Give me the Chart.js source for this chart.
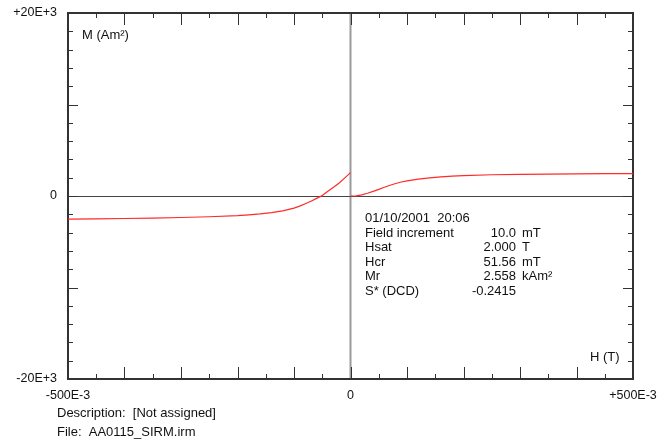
<!DOCTYPE html>
<html>
<head>
<meta charset="utf-8">
<script src="https://cdn.jsdelivr.net/npm/chart.js@4.4.1/dist/chart.umd.min.js"></script>
<style>
    html, body { margin: 0; padding: 0; background: #fff; }
    #wrap { position: relative; width: 670px; height: 445px; }
</style>
</head>
<body>
<div id="wrap"><canvas id="irmChart" width="670" height="445"></canvas></div>
<script>
// DCD branch (back-field, plotted at negative H) and IRM acquisition branch
const dcdField = [0, -0.01, -0.02, -0.03, -0.04, -0.05, -0.06, -0.07, -0.08, -0.09, -0.10,
    -0.12, -0.14, -0.16, -0.18, -0.20, -0.25, -0.30, -0.35, -0.40, -0.45, -0.50];
const dcdMoment = [2558, 1980, 1420, 950, 520, 50, -260, -580, -850, -1110, -1320,
    -1620, -1820, -1960, -2060, -2140, -2270, -2350, -2410, -2460, -2490, -2520];

const irmField = [0, 0.01, 0.02, 0.03, 0.04, 0.05, 0.06, 0.07, 0.08, 0.09, 0.10,
    0.12, 0.14, 0.16, 0.18, 0.20, 0.25, 0.30, 0.35, 0.40, 0.45, 0.50];
const irmMoment = [0, 20, 120, 300, 500, 720, 960, 1180, 1370, 1530, 1660,
    1850, 1990, 2090, 2170, 2230, 2320, 2370, 2400, 2420, 2435, 2445];

const xTickValues = [-0.5, 0, 0.5];
const xTickLabels = ['-500E-3', '0', '+500E-3'];
const yTickValues = [-20000, 0, 20000];
const yTickLabels = ['-20E+3', '0', '+20E+3'];

const infoNames = ['Field increment', 'Hsat', 'Hcr', 'Mr', 'S* (DCD)'];
const infoValues = ['10.0', '2.000', '51.56', '2.558', '-0.2415'];
const infoUnits = ['mT', 'T', 'mT', 'kAm²', ''];

const FONT = "'Liberation Sans', Arial, sans-serif";

function toPoints(xs, ys) {
    return xs.map((x, i) => ({ x: x, y: ys[i] }));
}

// frame, inward tick marks and the zero axes
const framePlugin = {
    id: 'frame',
    beforeDatasetsDraw(chart) {
        const { ctx, chartArea: a, scales } = chart;
        const sx = scales.x, sy = scales.y;
        ctx.save();

        // zero lines
        const x0 = sx.getPixelForValue(0);
        const y0 = sy.getPixelForValue(0);
        ctx.strokeStyle = '#9a9a9a';
        ctx.lineWidth = 2;
        ctx.beginPath();
        ctx.moveTo(x0, a.top);
        ctx.lineTo(x0, a.bottom);
        ctx.stroke();
        ctx.strokeStyle = '#444';
        ctx.lineWidth = 1;
        ctx.beginPath();
        ctx.moveTo(a.left, y0 + 0.5);
        ctx.lineTo(a.right, y0 + 0.5);
        ctx.stroke();

        // tick marks: every 0.05 T / 2000, longer every 0.1 T / 10000
        ctx.strokeStyle = '#333';
        ctx.lineWidth = 1;
        ctx.beginPath();
        for (let i = -10; i <= 10; i++) {
            const px = Math.round(sx.getPixelForValue(i * 0.05)) + 0.5;
            const len = i % 2 === 0 ? 12 : 5;
            ctx.moveTo(px, a.bottom);
            ctx.lineTo(px, a.bottom - len);
            ctx.moveTo(px, a.top);
            ctx.lineTo(px, a.top + len);
        }
        for (let j = -10; j <= 10; j++) {
            const py = Math.round(sy.getPixelForValue(j * 2000)) + 0.5;
            const len = j % 5 === 0 ? 10 : 5;
            ctx.moveTo(a.left, py);
            ctx.lineTo(a.left + len, py);
            ctx.moveTo(a.right, py);
            ctx.lineTo(a.right - len, py);
        }
        ctx.stroke();

        // outer box
        ctx.strokeStyle = '#333';
        ctx.lineWidth = 2;
        ctx.strokeRect(a.left, a.top, a.right - a.left, a.bottom - a.top);
        ctx.restore();
    },
    afterDraw(chart) {
        const { ctx } = chart;
        ctx.save();
        ctx.fillStyle = '#111';
        ctx.font = '13px ' + FONT;
        ctx.textBaseline = 'middle';
        ctx.textAlign = 'left';

        // axis names
        ctx.fillText('M (Am²)', 82, 35);
        ctx.fillText('H (T)', 590, 357);

        // measurement summary
        ctx.fillText('01/10/2001  20:06', 365, 218);
        infoNames.forEach((name, i) => {
            const y = 233 + i * 14.5;
            ctx.textAlign = 'left';
            ctx.fillText(name, 365, y);
            ctx.textAlign = 'right';
            ctx.fillText(infoValues[i], 516, y);
            ctx.textAlign = 'left';
            if (infoUnits[i]) ctx.fillText(infoUnits[i], 522, y);
        });

        // file info under the plot
        ctx.textAlign = 'left';
        ctx.fillText('Description:  [Not assigned]', 57, 413);
        ctx.fillText('File:  AA0115_SIRM.irm', 57, 432);
        ctx.restore();
    }
};

function initChart() {
    new Chart(document.getElementById('irmChart'), {
        type: 'scatter',
        data: {
            datasets: [
                { data: toPoints(dcdField, dcdMoment) },
                { data: toPoints(irmField, irmMoment) }
            ]
        },
        options: {
            responsive: false,
            animation: false,
            layout: { padding: { top: 13, right: 37, bottom: 0, left: 0 } },
            plugins: { legend: { display: false }, tooltip: { enabled: false } },
            elements: {
                line: { borderColor: '#ff2a2a', borderWidth: 1.2, tension: 0, fill: false },
                point: { radius: 0 }
            },
            datasets: { scatter: { showLine: true } },
            scales: {
                x: {
                    type: 'linear',
                    min: -0.5,
                    max: 0.5,
                    grid: { display: false, drawTicks: false, tickLength: 0 },
                    border: { display: false },
                    afterBuildTicks: s => { s.ticks = xTickValues.map(v => ({ value: v })); },
                    afterFit: s => { s.height = 66; s.paddingLeft = 0; s.paddingRight = 0; },
                    ticks: {
                        padding: 9,
                        maxRotation: 0,
                        autoSkip: false,
                        color: '#111',
                        font: { family: FONT, size: 12.5 },
                        callback: v => xTickLabels[xTickValues.indexOf(v)]
                    }
                },
                y: {
                    type: 'linear',
                    min: -20000,
                    max: 20000,
                    grid: { display: false, drawTicks: false, tickLength: 0 },
                    border: { display: false },
                    afterBuildTicks: s => { s.ticks = yTickValues.map(v => ({ value: v })); },
                    afterFit: s => { s.width = 68; s.paddingTop = 0; s.paddingBottom = 0; },
                    ticks: {
                        padding: 11,
                        autoSkip: false,
                        color: '#111',
                        font: { family: FONT, size: 12.5 },
                        callback: v => yTickLabels[yTickValues.indexOf(v)]
                    }
                }
            }
        },
        plugins: [framePlugin]
    });
}

window.addEventListener('DOMContentLoaded', initChart);
</script>
</body>
</html>
